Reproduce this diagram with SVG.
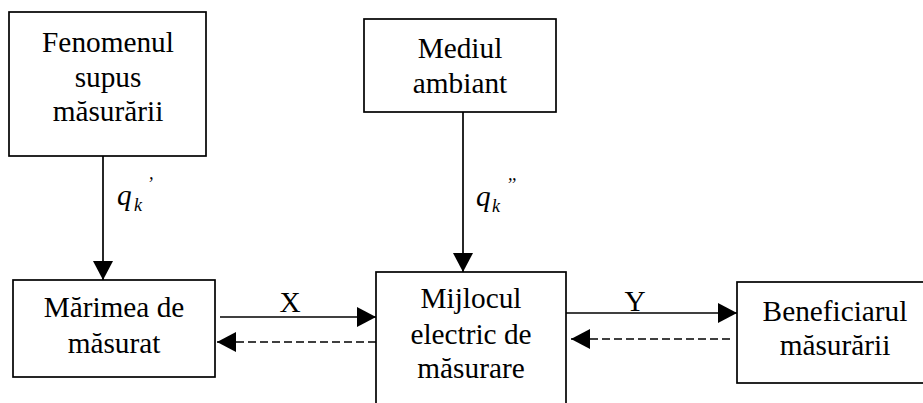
<svg xmlns="http://www.w3.org/2000/svg" width="923" height="403" viewBox="0 0 923 403">
<style>
.box{fill:#fff;stroke:#000;stroke-width:1.7}
.t{font-family:"Liberation Serif","Times New Roman",serif;font-size:29.3px;fill:#000;text-anchor:middle}
.q{font-family:"Liberation Serif","Times New Roman",serif;font-style:italic;fill:#000}
.ln{fill:none;stroke:#000;stroke-width:1.7}
.dash{stroke-dasharray:8 4}
</style>
<defs>
<marker id="ah" markerUnits="userSpaceOnUse" markerWidth="20" markerHeight="20" refX="19" refY="10" orient="auto">
<path d="M0,0 L19,10 L0,20 Z" fill="#000"/>
</marker>
</defs>
<rect width="923" height="403" fill="#fff"/>
<g id="fenomenul">
<rect class="box" x="9" y="12" width="197" height="144"/>
<text class="t" x="108" y="52">Fenomenul</text>
<text class="t" x="108" y="87">supus</text>
<text class="t" x="108" y="121">măsurării</text>
</g>
<g id="mediul">
<rect class="box" x="364" y="19" width="192" height="93"/>
<text class="t" x="460" y="58">Mediul</text>
<text class="t" x="460" y="93">ambiant</text>
</g>
<g id="marimea">
<rect class="box" x="13" y="280" width="202" height="97"/>
<text class="t" x="114" y="317">Mărimea de</text>
<text class="t" x="114" y="353">măsurat</text>
</g>
<g id="mijlocul">
<rect class="box" x="376" y="272" width="190" height="140"/>
<text class="t" x="471" y="308">Mijlocul</text>
<text class="t" x="471" y="344">electric de</text>
<text class="t" x="471" y="378">măsurare</text>
</g>
<g id="beneficiarul">
<rect class="box" x="737" y="282" width="198" height="101"/>
<text class="t" x="835" y="321">Beneficiarul</text>
<text class="t" x="835" y="355">măsurării</text>
</g>
<g id="connectors">
<line class="ln" x1="103" y1="156" x2="103" y2="280" marker-end="url(#ah)"/>
<line class="ln" x1="463" y1="112" x2="463" y2="272" marker-end="url(#ah)"/>
<line class="ln" x1="220" y1="317" x2="376" y2="317" marker-end="url(#ah)"/>
<line class="ln dash" x1="376" y1="342" x2="217" y2="342" marker-end="url(#ah)"/>
<line class="ln" x1="566" y1="313" x2="737" y2="313" marker-end="url(#ah)"/>
<line class="ln dash" x1="730" y1="339" x2="571" y2="339" marker-end="url(#ah)"/>
<text class="t" x="290" y="312">X</text>
<text class="t" x="635" y="311">Y</text>
<text class="q"><tspan x="117" y="205" font-size="29.3">q</tspan><tspan x="134" y="211" font-size="18">k</tspan><tspan x="147" y="190" font-size="18">’</tspan></text>
<text class="q"><tspan x="476" y="206" font-size="29.3">q</tspan><tspan x="492" y="212" font-size="18">k</tspan><tspan x="506" y="191" font-size="18">’’</tspan></text>
</g>
</svg>
